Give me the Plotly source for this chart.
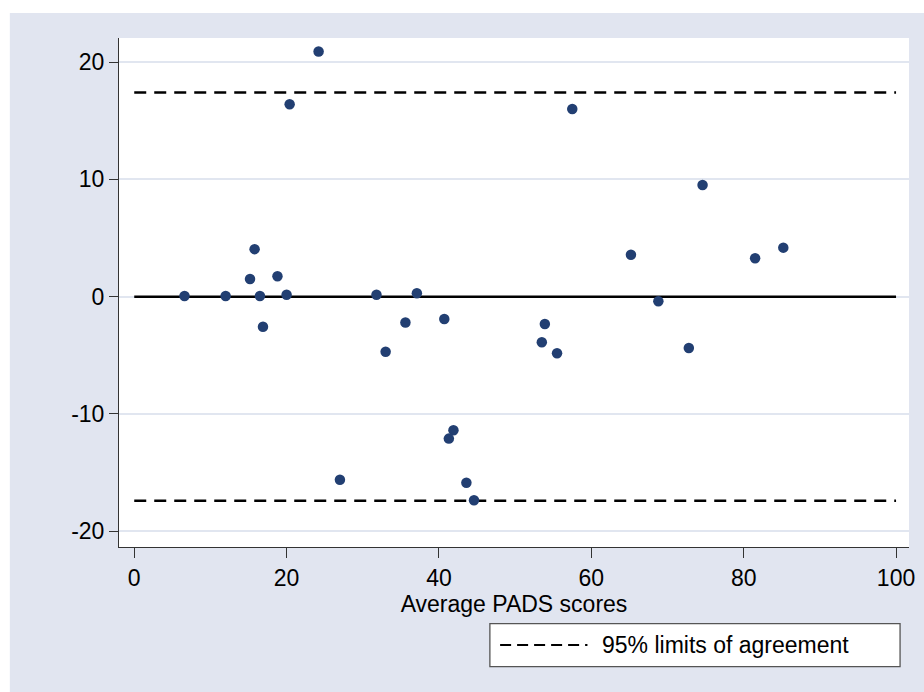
import plotly.graph_objects as go

# Data
avg_scores = [6.6, 12.0, 15.8, 15.2, 16.5, 16.9, 18.8, 20.0, 20.4, 24.2,
              27.0, 31.8, 33.0, 35.6, 37.1, 40.7, 41.9, 41.3, 43.6, 44.6,
              53.9, 53.5, 55.5, 57.5, 65.2, 68.8, 72.8, 74.6, 81.5, 85.2]
differences = [0.05, 0.05, 4.05, 1.5, 0.06, -2.56, 1.74, 0.17, 16.4, 20.9,
               -15.6, 0.17, -4.69, -2.2, 0.29, -1.9, -11.39, -12.1, -15.86, -17.36,
               -2.33, -3.89, -4.83, 16.0, 3.58, -0.39, -4.37, 9.52, 3.27, 4.18]
line_x = [0, 100]
mean_diff = 0.0
upper_loa = 17.4
lower_loa = -17.4
x_ticks = [0, 20, 40, 60, 80, 100]
x_tick_labels = ["0", "20", "40", "60", "80", "100"]
y_ticks = [-20, -10, 0, 10, 20]
y_tick_labels = ["-20", "-10", "0", "10", "20"]
legend_label = "95% limits of agreement"
x_title = "Average PADS scores"

FONT = "Liberation Sans, Arial, sans-serif"
FS = 23
GRID = "#E1E6F0"
BG = "#E1E5F0"

fig = go.Figure()
fig.add_trace(go.Scatter(x=line_x, y=[upper_loa, upper_loa], mode="lines",
                         line=dict(color="black", width=2.5, dash="12px,8px"),
                         showlegend=False, hoverinfo="skip"))
fig.add_trace(go.Scatter(x=line_x, y=[lower_loa, lower_loa], mode="lines",
                         line=dict(color="black", width=2.5, dash="12px,8px"),
                         showlegend=False, hoverinfo="skip"))
fig.add_trace(go.Scatter(x=line_x, y=[mean_diff, mean_diff], mode="lines",
                         line=dict(color="black", width=2.5),
                         showlegend=False, hoverinfo="skip"))
fig.add_trace(go.Scatter(x=avg_scores, y=differences, mode="markers",
                         marker=dict(color="#223F72", size=10.5, line=dict(width=0)),
                         showlegend=False))

# margins helpers (pixels -> paper), used only for frame/legend decoration
L, R, T, B = 119, 9, 38, 145
W, H = 924, 692
pw, ph = W - L - R, H - T - B
def px(x):
    return (x - L) / pw
def py(y):
    return (H - B - y) / ph

shapes = [
    # white outer strips (left and top)
    dict(type="rect", xref="paper", yref="paper", x0=px(-20), x1=px(9), y0=py(720), y1=py(-20),
         fillcolor="white", line=dict(width=0), layer="above"),
    dict(type="rect", xref="paper", yref="paper", x0=px(-20), x1=px(950), y0=py(13), y1=py(-20),
         fillcolor="white", line=dict(width=0), layer="above"),
    # legend box and key
    dict(type="rect", xref="paper", yref="paper", x0=px(492.7), x1=px(906), y0=py(666.7), y1=py(623.7),
         fillcolor="white", line=dict(color="#555555", width=1.3), layer="above"),
    dict(type="line", xref="paper", yref="paper", x0=px(503), x1=px(591), y0=py(645), y1=py(645),
         line=dict(color="black", width=2, dash="11px,6px"), layer="above"),
]

fig.update_layout(
    width=W, height=H,
    margin=dict(l=L, r=R, t=T, b=B, pad=0),
    paper_bgcolor=BG, plot_bgcolor="white",
    font=dict(family=FONT, size=FS, color="black"),
    shapes=shapes,
    annotations=[dict(text=legend_label, xref="paper", yref="paper", x=px(604), y=py(645),
                      xanchor="left", yanchor="middle", showarrow=False,
                      font=dict(family=FONT, size=FS, color="black"))],
    showlegend=False,
)
fig.update_xaxes(range=[-2, 101.7], tickvals=x_ticks, ticktext=x_tick_labels,
                 ticks="outside", ticklen=10,
                 tickcolor="#333333", tickwidth=1, showline=True, linecolor="#333333", linewidth=1,
                 showgrid=False, zeroline=False, tickfont=dict(size=FS),
                 title=dict(text=x_title, standoff=0, font=dict(size=FS)))
fig.update_yaxes(range=[-21.34, 22.05], tickvals=y_ticks, ticktext=y_tick_labels,
                 ticks="outside", ticklen=9,
                 tickcolor="#333333", tickwidth=1, showline=True, linecolor="#333333", linewidth=1,
                 showgrid=True, gridcolor=GRID, gridwidth=1.5, zeroline=False, tickfont=dict(size=FS))

fig.write_html("out.html")
